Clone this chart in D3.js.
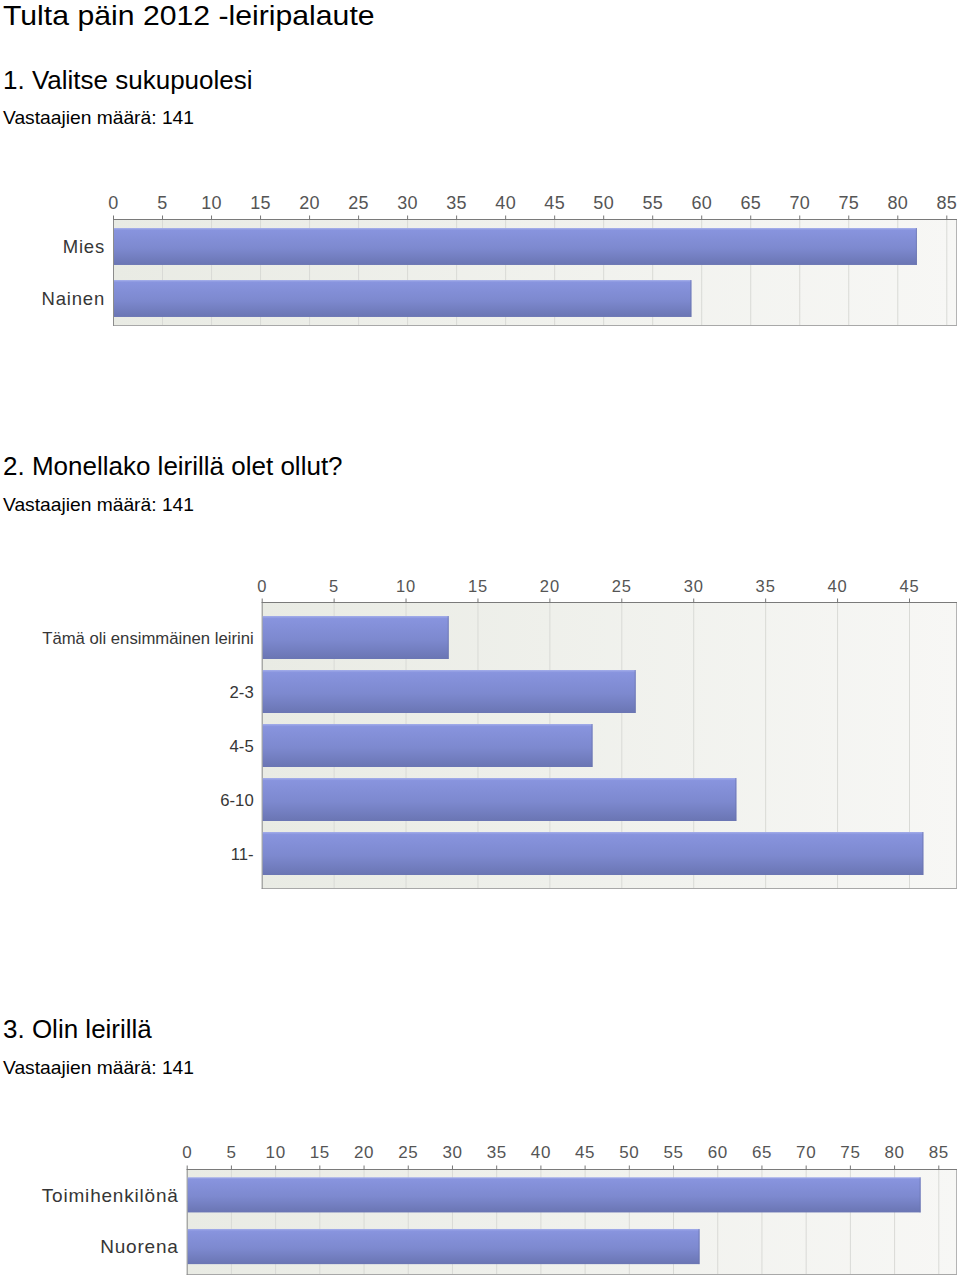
<!DOCTYPE html>
<html>
<head>
<meta charset="utf-8">
<script src="https://cdn.jsdelivr.net/npm/d3@7"></script>
<style>
  body { margin: 0; background: #fff; }
  svg { display: block; font-family: "Liberation Sans", Arial, sans-serif; }
</style>
</head>
<body>
<div id="page"></div>
<script>
// data
const q1Categories = ["Mies", "Nainen"];
const q1Values = [82, 59];

const q2Categories = ["Tämä oli ensimmäinen leirini", "2-3", "4-5", "6-10", "11-"];
const q2Values = [13, 26, 23, 33, 46];

const q3Categories = ["Toimihenkilönä", "Nuorena"];
const q3Values = [83, 58];

const q1Ticks = d3.range(0, 90, 5);
const q2Ticks = d3.range(0, 50, 5);
const q3Ticks = d3.range(0, 90, 5);

const width = 960;
const height = 1278;

const svg = d3.select("#page").append("svg")
  .attr("width", width)
  .attr("height", height);

const defs = svg.append("defs");

const barGrad = defs.append("linearGradient")
  .attr("id", "barGrad").attr("x1", 0).attr("y1", 0).attr("x2", 0).attr("y2", 1);
barGrad.append("stop").attr("offset", "0%").attr("stop-color", "#a3adea");
barGrad.append("stop").attr("offset", "6%").attr("stop-color", "#8894de");
barGrad.append("stop").attr("offset", "55%").attr("stop-color", "#7d89cf");
barGrad.append("stop").attr("offset", "100%").attr("stop-color", "#6a75b3");

const bgGrad = defs.append("linearGradient")
  .attr("id", "bgGrad").attr("x1", 0).attr("y1", 0).attr("x2", 1).attr("y2", 0);
bgGrad.append("stop").attr("offset", "0%").attr("stop-color", "#e9ebe4");
bgGrad.append("stop").attr("offset", "100%").attr("stop-color", "#f7f7f5");

// headings (stretched a little sideways like the source)
function heading(text, y, size, sx) {
  svg.append("text")
    .attr("transform", `translate(3,${y}) scale(${sx},1)`)
    .attr("font-size", size)
    .attr("fill", "#000")
    .text(text);
}

heading("Tulta päin 2012 -leiripalaute", 25, 28.5, 1.06);

heading("1. Valitse sukupuolesi", 89, 25, 1.04);
heading("Vastaajien määrä: 141", 124, 17.5, 1.1);

heading("2. Monellako leirillä olet ollut?", 475, 25, 1.04);
heading("Vastaajien määrä: 141", 511, 17.5, 1.1);

heading("3. Olin leirillä", 1038, 25, 1.04);
heading("Vastaajien määrä: 141", 1074, 17.5, 1.1);

function drawChart(cfg) {
  const g = svg.append("g");

  const x = d3.scaleLinear()
    .domain([0, cfg.ticks[cfg.ticks.length - 1]])
    .range([cfg.left, cfg.tickRight]);

  const y = d3.scaleBand()
    .domain(cfg.categories)
    .range([cfg.bandTop, cfg.bandBottom])
    .paddingInner(cfg.pad)
    .paddingOuter(cfg.pad / 2);

  // plot background
  g.append("rect")
    .attr("x", cfg.left)
    .attr("y", cfg.top)
    .attr("width", cfg.right - cfg.left)
    .attr("height", cfg.bottom - cfg.top)
    .attr("fill", "url(#bgGrad)");

  // grid
  g.selectAll(".grid")
    .data(cfg.ticks.slice(1))
    .enter()
    .append("line")
    .attr("x1", d => x(d) + 0.5)
    .attr("x2", d => x(d) + 0.5)
    .attr("y1", cfg.top)
    .attr("y2", cfg.bottom)
    .attr("stroke", "#d9dad6")
    .attr("stroke-width", 1);

  // frame
  g.append("line")
    .attr("x1", cfg.right - 0.5).attr("x2", cfg.right - 0.5)
    .attr("y1", cfg.top).attr("y2", cfg.bottom)
    .attr("stroke", "#b4b4b4");
  g.append("line")
    .attr("x1", cfg.left).attr("x2", cfg.right)
    .attr("y1", cfg.bottom - 0.5).attr("y2", cfg.bottom - 0.5)
    .attr("stroke", "#a8a8a8");
  g.append("line")
    .attr("x1", cfg.left + 0.5).attr("x2", cfg.left + 0.5)
    .attr("y1", cfg.top).attr("y2", cfg.bottom)
    .attr("stroke", "#8c8c8c");

  // bars
  g.selectAll(".bar")
    .data(cfg.values)
    .enter()
    .append("rect")
    .attr("x", cfg.left + 1)
    .attr("y", (d, i) => y(cfg.categories[i]))
    .attr("width", d => x(d) - cfg.left - 1)
    .attr("height", y.bandwidth())
    .attr("fill", "url(#barGrad)");

  g.selectAll(".barEdge")
    .data(cfg.values)
    .enter()
    .append("line")
    .attr("x1", d => x(d) - 0.5)
    .attr("x2", d => x(d) - 0.5)
    .attr("y1", (d, i) => y(cfg.categories[i]))
    .attr("y2", (d, i) => y(cfg.categories[i]) + y.bandwidth())
    .attr("stroke", "#6a74ad")
    .attr("stroke-opacity", 0.7);

  // category labels
  g.selectAll(".label")
    .data(cfg.categories)
    .enter()
    .append("text")
    .attr("x", cfg.left - 8)
    .attr("y", d => y(d) + y.bandwidth() / 2)
    .attr("dy", "0.36em")
    .attr("text-anchor", "end")
    .attr("font-size", cfg.labelSize)
    .attr("letter-spacing", cfg.labelSpacing)
    .attr("fill", "#363636")
    .text(d => d);

  // top axis
  const axis = d3.axisTop(x)
    .tickValues(cfg.ticks)
    .tickSize(4)
    .tickPadding(cfg.tickPad)
    .tickSizeOuter(0);

  const ax = g.append("g")
    .attr("transform", `translate(0,${cfg.top + 0.5})`)
    .call(axis);

  ax.select(".domain")
    .attr("d", `M${cfg.left},0H${cfg.right}`)
    .attr("stroke", "#7a7a7a");
  ax.selectAll(".tick line").attr("stroke", "#777");
  ax.selectAll(".tick text")
    .attr("font-family", "Liberation Sans, Arial, sans-serif")
    .attr("font-size", cfg.tickSize)
    .attr("letter-spacing", cfg.tickSpacing)
    .attr("fill", "#555");
}

drawChart({
  categories: q1Categories, values: q1Values, ticks: q1Ticks,
  left: 113, tickRight: 946.3, right: 957,
  top: 219, bottom: 326, bandTop: 220.5, bandBottom: 324.5, pad: 0.29,
  labelSize: 18.5, labelSpacing: 0.8, tickSize: 18, tickSpacing: 0.3, tickPad: 7
});

drawChart({
  categories: q2Categories, values: q2Values, ticks: q2Ticks,
  left: 261.7, tickRight: 909, right: 957,
  top: 602, bottom: 889, bandTop: 610.5, bandBottom: 880.5, pad: 0.204,
  labelSize: 16.7, labelSpacing: 0, tickSize: 16.5, tickSpacing: 0.9, tickPad: 7
});

drawChart({
  categories: q3Categories, values: q3Values, ticks: q3Ticks,
  left: 186.7, tickRight: 938.3, right: 957,
  top: 1169, bottom: 1275, bandTop: 1169, bandBottom: 1272.4, pad: 0.32,
  labelSize: 19, labelSpacing: 0.8, tickSize: 17, tickSpacing: 0.6, tickPad: 8
});
</script>
</body>
</html>
